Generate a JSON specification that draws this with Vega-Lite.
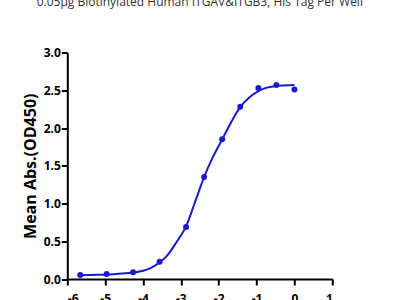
{
  "$schema": "https://vega.github.io/schema/vega-lite/v6.json",
  "autosize": {"type": "none"},
  "width": 265,
  "height": 226.5,
  "padding": {"left": 67.3, "top": 52.5, "right": 67.7, "bottom": 21},
  "background": "white",
  "title": {
    "text": "0.05μg Biotinylated Human ITGAV&ITGB3, His Tag Per Well",
    "font": "Open Sans",
    "fontSize": 12,
    "fontWeight": "normal",
    "color": "#333333",
    "baseline": "alphabetic",
    "anchor": "middle",
    "offset": 29
  },
  "datasets": {
    "points": [
      {"x": -5.659, "y": 0.053},
      {"x": -4.960, "y": 0.066},
      {"x": -4.261, "y": 0.089},
      {"x": -3.562, "y": 0.23},
      {"x": -2.863, "y": 0.69},
      {"x": -2.386, "y": 1.35},
      {"x": -1.908, "y": 1.85},
      {"x": -1.431, "y": 2.28},
      {"x": -0.954, "y": 2.53},
      {"x": -0.477, "y": 2.57},
      {"x": 0.0, "y": 2.51}
    ],
    "curve": [
      {"x": -5.66, "y": 0.05},
      {"x": -5.2, "y": 0.055},
      {"x": -4.8, "y": 0.063},
      {"x": -4.4, "y": 0.078},
      {"x": -4.0, "y": 0.11},
      {"x": -3.8, "y": 0.145},
      {"x": -3.56, "y": 0.22},
      {"x": -3.4, "y": 0.29},
      {"x": -3.287, "y": 0.36},
      {"x": -3.1, "y": 0.5},
      {"x": -2.87, "y": 0.69},
      {"x": -2.626, "y": 1.02},
      {"x": -2.386, "y": 1.35},
      {"x": -2.159, "y": 1.61},
      {"x": -1.908, "y": 1.85},
      {"x": -1.7, "y": 2.05},
      {"x": -1.43, "y": 2.28},
      {"x": -1.17, "y": 2.415},
      {"x": -0.95, "y": 2.49},
      {"x": -0.73, "y": 2.535},
      {"x": -0.4, "y": 2.56},
      {"x": 0.0, "y": 2.57}
    ]
  },
  "encoding": {
    "x": {
      "field": "x",
      "type": "quantitative",
      "scale": {"domain": [-6, 1], "nice": false, "zero": false},
      "axis": {
        "title": null,
        "values": [-6, -5, -4, -3, -2, -1, 0, 1],
        "labelExpr": "'' + datum.value",
        "grid": false,
        "domainColor": "black",
        "domainWidth": 2,
        "tickColor": "black",
        "tickWidth": 2,
        "tickSize": 6,
        "labelFont": "Open Sans",
        "labelFontSize": 12,
        "labelFontWeight": "bold",
        "labelColor": "black",
        "labelPadding": 8
      }
    },
    "y": {
      "field": "y",
      "type": "quantitative",
      "scale": {"domain": [0, 3], "nice": false},
      "axis": {
        "title": "Mean Abs.(OD450)",
        "titleFont": "Open Sans",
        "titleFontSize": 16,
        "titleFontWeight": "bold",
        "titleColor": "black",
        "titlePadding": 5,
        "values": [0, 0.5, 1, 1.5, 2, 2.5, 3],
        "format": ".1f",
        "grid": false,
        "domainColor": "black",
        "domainWidth": 2,
        "tickColor": "black",
        "tickWidth": 2,
        "tickSize": 6,
        "labelFont": "Open Sans",
        "labelFontSize": 12,
        "labelFontWeight": "bold",
        "labelColor": "black",
        "labelPadding": 1
      }
    }
  },
  "layer": [
    {
      "data": {"name": "curve"},
      "mark": {"type": "line", "color": "#1a1acc", "strokeWidth": 2, "interpolate": "monotone"}
    },
    {
      "data": {"name": "points"},
      "mark": {"type": "point", "filled": true, "color": "#1a1acc", "opacity": 1, "size": 36}
    }
  ],
  "config": {"view": {"stroke": null}}
}
